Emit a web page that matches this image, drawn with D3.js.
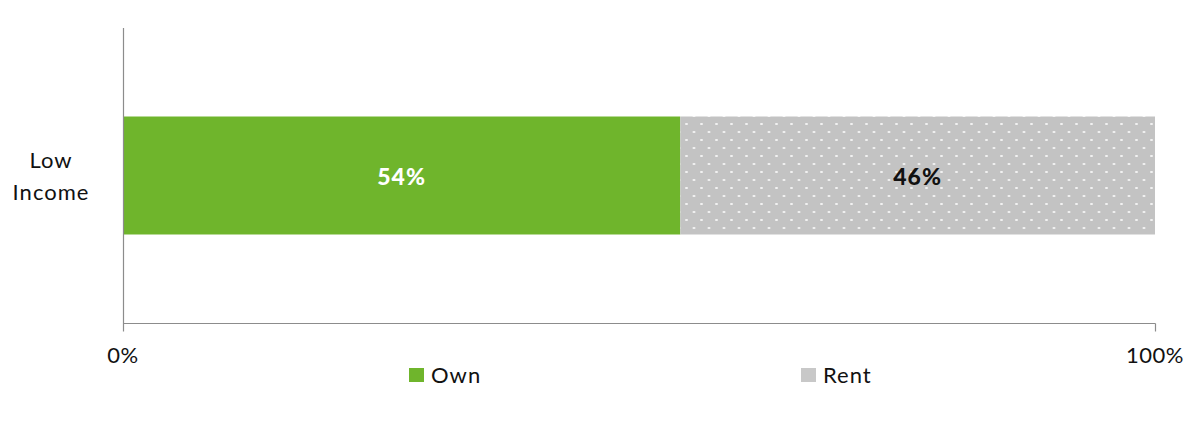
<!DOCTYPE html>
<html>
<head>
<meta charset="utf-8">
<script src="https://cdn.jsdelivr.net/npm/d3@7"></script>
<style>
  html, body { margin: 0; padding: 0; background: #fff; }
  svg { display: block; font-family: "Lato", "Open Sans", sans-serif; }
</style>
</head>
<body>
<svg id="chart" width="1202" height="430"></svg>
<script>
// Housing tenure by income group
const categories = ["Low Income"];
const seriesNames = ["Own", "Rent"];
const ownValues = [54];
const rentValues = [46];
const tickLabels = ["0%", "100%"];

const svg = d3.select("#chart");
const margin = { left: 123, right: 47, top: 28, bottom: 107 };
const W = 1202, H = 430;

const x = d3.scaleLinear().domain([0, 100]).range([margin.left, W - margin.right]);
const y = d3.scaleBand().domain(categories).range([margin.top, H - margin.bottom]).padding(0.4286);

// dotted fill for the Rent segment
const defs = svg.append("defs");
const pat = defs.append("pattern")
  .attr("id", "dots").attr("patternUnits", "userSpaceOnUse")
  .attr("width", 15).attr("height", 16);
pat.append("rect").attr("width", 15).attr("height", 16).attr("fill", "#c3c3c3");
pat.append("ellipse").attr("cx", 4).attr("cy", 4).attr("rx", 1.6).attr("ry", 1).attr("fill", "#f4f4f4");
pat.append("ellipse").attr("cx", 11.5).attr("cy", 12).attr("rx", 1.6).attr("ry", 1).attr("fill", "#f4f4f4");

const colors = { Own: "#6fb52c", Rent: "url(#dots)" };
const legendColors = { Own: "#6fb52c", Rent: "#c8c8c8" };

const stacked = d3.stack().keys(seriesNames)(categories.map((c, i) => ({
  category: c, Own: ownValues[i], Rent: rentValues[i]
})));

stacked.forEach(layer => {
  svg.selectAll(null).data(layer).enter().append("rect")
    .attr("x", d => x(d[0]))
    .attr("y", d => y(d.data.category))
    .attr("width", d => x(d[1]) - x(d[0]))
    .attr("height", y.bandwidth())
    .attr("fill", colors[layer.key]);

  svg.selectAll(null).data(layer).enter().append("text")
    .attr("x", d => (x(d[0]) + x(d[1])) / 2)
    .attr("y", 185)
    .attr("text-anchor", "middle")
    .attr("font-weight", "900")
    .attr("font-size", 23)
    .attr("letter-spacing", 1)
    .attr("fill", layer.key === "Own" ? "#ffffff" : "#111111")
    .text(d => (d[1] - d[0]) + "%");
});

// axes
const axisColor = "#8c8c8c";
const baseY = H - margin.bottom + 0.5;
svg.append("line")
  .attr("x1", x(0) + 0.5).attr("x2", x(0) + 0.5)
  .attr("y1", margin.top).attr("y2", baseY + 8)
  .attr("stroke", axisColor).attr("stroke-width", 1.2);
svg.append("line")
  .attr("x1", x(0)).attr("x2", x(100) + 0.5)
  .attr("y1", baseY).attr("y2", baseY)
  .attr("stroke", axisColor).attr("stroke-width", 1.2);
svg.append("line")
  .attr("x1", x(100) + 0.5).attr("x2", x(100) + 0.5)
  .attr("y1", baseY).attr("y2", baseY + 8)
  .attr("stroke", axisColor).attr("stroke-width", 1.2);

svg.selectAll(null).data([0, 100]).enter().append("text")
  .attr("x", d => x(d))
  .attr("y", 363)
  .attr("text-anchor", "middle")
  .attr("font-size", 22)
  .attr("letter-spacing", 0.5)
  .attr("fill", "#111")
  .text((d, i) => tickLabels[i]);

// category label
categories.forEach(c => {
  const words = c.split(" ");
  const t = svg.append("text")
    .attr("text-anchor", "middle")
    .attr("font-size", 22)
    .attr("letter-spacing", 1)
    .attr("fill", "#111");
  words.forEach((w, i) => {
    t.append("tspan")
      .attr("x", 51)
      .attr("y", 168 + i * 32)
      .text(w);
  });
});

// legend
const legendX = [409, 801];
seriesNames.forEach((s, i) => {
  svg.append("rect")
    .attr("x", legendX[i]).attr("y", 368)
    .attr("width", 15).attr("height", 14)
    .attr("fill", legendColors[s]);
  svg.append("text")
    .attr("x", legendX[i] + 22).attr("y", 383)
    .attr("font-size", 22)
    .attr("letter-spacing", 1)
    .attr("fill", "#111")
    .text(s);
});
</script>
</body>
</html>
